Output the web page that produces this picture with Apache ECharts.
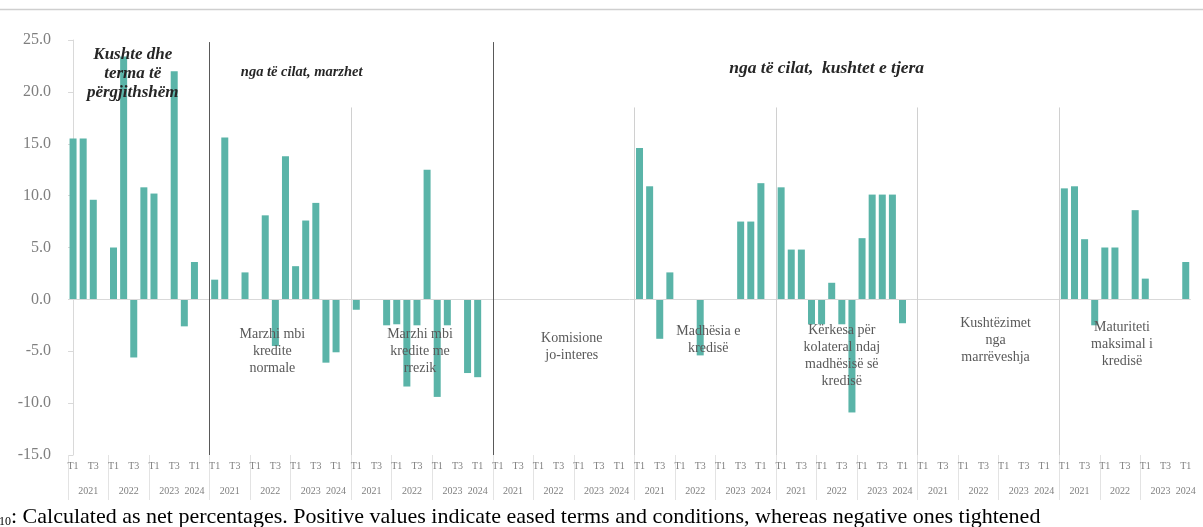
<!DOCTYPE html>
<html>
<head>
<meta charset="utf-8">
<script src="https://cdn.jsdelivr.net/npm/echarts@6/dist/echarts.min.js"></script>
<style>
  html, body { margin: 0; padding: 0; background: #ffffff; }
  #chart { width: 1203px; height: 527px; }
</style>
</head>
<body>
<div id="chart"></div>
<script>
// Quarter labels repeated in every panel (2021 T1 ... 2024 T1)
const quarters = ['T1','T2','T3','T4','T1','T2','T3','T4','T1','T2','T3','T4','T1'];
const years = ['2021','2022','2023','2024'];

// Net percentages per panel, one value per quarter
const generalTerms   = [15.5, 15.5, 9.6, 0, 5.0, 23.4, -5.6, 10.8, 10.2, 0, 22.0, -2.6, 3.6];
const marginAverage  = [1.9, 15.6, 0, 2.6, 0, 8.1, -4.5, 13.8, 3.2, 7.6, 9.3, -6.1, -5.1];
const marginRisky    = [-1.0, 0, 0, -2.5, -2.4, -8.4, -2.5, 12.5, -9.4, -2.5, 0, -7.1, -7.5];
const nonInterest    = [0, 0, 0, 0, 0, 0, 0, 0, 0, 0, 0, 0, 0];
const loanSize       = [14.6, 10.9, -3.8, 2.6, 0, 0, -5.4, 0, 0, 0, 7.5, 7.5, 11.2];
const collateral     = [10.8, 4.8, 4.8, -2.4, -2.4, 1.6, -2.4, -10.9, 5.9, 10.1, 10.1, 10.1, -2.3];
const covenants      = [0, 0, 0, 0, 0, 0, 0, 0, 0, 0, 0, 0, 0];
const maturity       = [10.7, 10.9, 5.8, -2.5, 5.0, 5.0, 0, 8.6, 2.0, 0, 0, 0, 3.6];

const panels = [generalTerms, marginAverage, marginRisky, nonInterest, loanSize, collateral, covenants, maturity];

// Panel captions
const panelNames = [
  '',
  'Marzhi mbi\nkredite\nnormale',
  'Marzhi mbi\nkredite me\nrrezik',
  'Komisione\njo-interes',
  'Madhësia e\nkredisë',
  'Kërkesa për\nkolateral ndaj\nmadhësisë së\nkredisë',
  'Kushtëzimet\nnga\nmarrëveshja',
  'Maturiteti\nmaksimal i\nkredisë'
];
const sectionTitles = ['Kushte dhe\nterma të\npërgjithshëm', 'nga të cilat, marzhet', 'nga të cilat,  kushtet e tjera'];

const footnote = ': Calculated as net percentages. Positive values indicate eased terms and conditions, whereas negative ones tightened';

// Build one long category axis: 13 quarters per panel, one empty slot between panels
const PER = quarters.length;      // 13
const STEP = PER + 1;             // 14
const categories = [];
const values = [];
panels.forEach((vals, g) => {
  quarters.forEach((q, i) => { categories.push(q); values.push(vals[i]); });
  if (g < panels.length - 1) { categories.push(''); values.push(null); }
});
const N = categories.length;      // 111

// Year labels and separators in panel-relative index units
const yearCenters = [1.5, 5.5, 9.5, 12];
const yearLabelPos = [], yearLabelMap = {};
const separatorPos = [-0.5];
panels.forEach((_, g) => {
  const base = g * STEP;
  yearCenters.forEach((c, k) => { yearLabelPos.push(base + c); yearLabelMap[base + c] = years[k]; });
  separatorPos.push(base + 3.5, base + 7.5);
  if (g < panels.length - 1) separatorPos.push(base + 13.5);
});

const serif = '"Liberation Serif", "Times New Roman", serif';
const axisGrey = '#7f7f7f';

// Panel dividers: strong ones between the three sections, light ones within
const strongDividers = [1, 3];
const dividerLines = [];
for (let g = 1; g < panels.length; g++) {
  const x = g * STEP - 0.5;
  const strong = strongDividers.includes(g);
  dividerLines.push([
    { coord: [x, strong ? 24.8 : 18.5], lineStyle: { color: strong ? '#595959' : '#d0d0d0', width: 1, type: 'solid' } },
    { coord: [x, -15] }
  ]);
}

const chart = echarts.init(document.getElementById('chart'), null, { renderer: 'canvas' });

chart.setOption({
  animation: false,
  backgroundColor: '#ffffff',
  grid: { left: 68, top: 40, width: 1122.8, height: 415, containLabel: false },
  xAxis: [
    {
      type: 'category',
      data: categories,
      position: 'bottom',
      boundaryGap: true,
      axisLine: { show: false },
      axisTick: { show: false },
      splitLine: { show: false },
      axisLabel: {
        interval: (idx, val) => val === 'T1' || val === 'T3',
        fontFamily: serif, fontSize: 10, color: axisGrey, margin: 6
      }
    },
    {
      type: 'value',
      min: -0.5, max: N - 0.5,
      position: 'bottom',
      offset: 27,
      axisLine: { show: false },
      axisTick: { show: false },
      splitLine: { show: false },
      axisLabel: {
        customValues: yearLabelPos,
        formatter: v => yearLabelMap[v] || '',
        fontFamily: serif, fontSize: 10, color: axisGrey, margin: 4,
        showMinLabel: true, showMaxLabel: true
      }
    },
    {
      type: 'value',
      min: -0.5, max: N - 0.5,
      position: 'bottom',
      offset: 0,
      axisLine: { show: false },
      axisLabel: { show: false },
      splitLine: { show: false },
      axisTick: {
        show: true, customValues: separatorPos, length: 45,
        lineStyle: { color: '#e3e3e3', width: 1 }
      }
    }
  ],
  yAxis: {
    type: 'value',
    min: -15, max: 25, interval: 5,
    axisLine: { show: true, lineStyle: { color: '#d9d9d9' } },
    axisTick: { show: true, length: 5, lineStyle: { color: '#d9d9d9' } },
    splitLine: { show: false },
    axisLabel: {
      formatter: v => v.toFixed(1),
      fontFamily: serif, fontSize: 16, color: axisGrey, margin: 17
    }
  },
  series: [
    {
      type: 'bar',
      xAxisIndex: 0,
      data: values,
      barWidth: 7,
      itemStyle: { color: '#5ab4a8' },
      markLine: {
        silent: true, symbol: 'none',
        label: { show: false },
        lineStyle: { color: '#d9d9d9', width: 1, type: 'solid' },
        data: [{ yAxis: 0 }]
      },
      z: 3
    },
    {
      type: 'line',
      xAxisIndex: 1,
      data: [],
      markLine: {
        silent: true, symbol: 'none',
        label: { show: false },
        data: dividerLines
      },
      z: 2
    }
  ]
});

// Text placed through the chart's own coordinate system
const toPx = (idx, val) => chart.convertToPixel({ xAxisIndex: 1, yAxisIndex: 0 }, [idx, val]);

// Caption anchors: [panel-relative index, value of first text line]
const captionAnchor = [null, [5.7, -3.4], [6.3, -3.4], [7.3, -3.8], [6.8, -3.1], [6.0, -3.0], [7.2, -2.3], [5.7, -2.7]];
// Section title anchors: [absolute index, value of first text line, font size, line height]
const titleAnchor = [[5.9, 23.6, 17, 19], [22.6, 21.9, 14.5, 17], [74.5, 22.3, 17.5, 20]];

const graphics = [];
panelNames.forEach((name, g) => {
  if (!name) return;
  const a = captionAnchor[g];
  const p = toPx(g * STEP + a[0], a[1]);
  graphics.push({
    type: 'text', x: p[0], y: p[1] - 8.5, z: 10,
    style: {
      text: name, fill: '#595959', font: '14px ' + serif,
      align: 'center', verticalAlign: 'top', textAlign: 'center', textVerticalAlign: 'top',
      lineHeight: 17
    }
  });
});
sectionTitles.forEach((t, k) => {
  const a = titleAnchor[k];
  const p = toPx(a[0], a[1]);
  graphics.push({
    type: 'text', x: p[0], y: p[1] - a[3] / 2, z: 10,
    style: {
      text: t, fill: '#262626', font: 'italic bold ' + a[2] + 'px ' + serif,
      align: 'center', verticalAlign: 'top', textAlign: 'center', textVerticalAlign: 'top',
      lineHeight: a[3]
    }
  });
});
// Top rule of the chart frame
graphics.push({
  type: 'line', z: 1,
  shape: { x1: 0, y1: 9.5, x2: 1203, y2: 9.5 },
  style: { stroke: '#cfcfcf', lineWidth: 1.5 }
});
// Source note under the chart
graphics.push({
  type: 'text', x: -1, y: 517, z: 10,
  style: {
    text: '{s|10}{m|' + footnote + '}',
    verticalAlign: 'middle', textVerticalAlign: 'middle',
    rich: {
      s: { fontFamily: serif, fontSize: 12, fill: '#000', verticalAlign: 'bottom', padding: [8, 0, 0, 0] },
      m: { fontFamily: serif, fontSize: 22, fill: '#000' }
    }
  }
});

chart.setOption({ graphic: { elements: graphics } });
</script>
</body>
</html>
